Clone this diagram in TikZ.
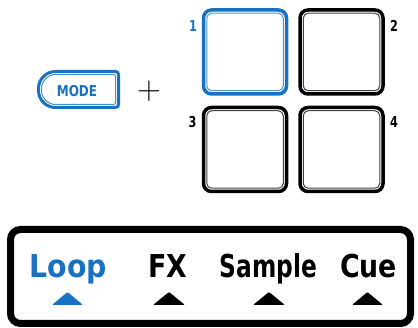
\documentclass[tikz,border=0pt]{standalone}
\usepackage{fontspec}
\newfontfamily\lblfont{DejaVu Sans}
\definecolor{padblue}{RGB}{25,113,194}
\begin{document}
\begin{tikzpicture}[x=1pt,y=-1pt,
  pad/.style={draw=#1, line width=3.5pt, rounded corners=8pt,
    minimum width=83pt, minimum height=84pt, inner sep=0pt,
    path picture={\draw[line width=1pt, draw=#1!75, rounded corners=5pt]
      ([shift={(3.25pt,-3.25pt)}]path picture bounding box.north west) rectangle
      ([shift={(-3.25pt,3.25pt)}]path picture bounding box.south east);}},
  padnum/.style={anchor=base, inner sep=0pt, font=\lblfont\bfseries\fontsize{15}{15}\selectfont},
  bartext/.style={anchor=base, inner sep=0pt, font=\lblfont\bfseries\fontsize{31.5}{32}\selectfont},
  marker/.style={rounded corners=1pt}]
\useasboundingbox (0,0) rectangle (418,328);

% MODE button
\draw[padblue, line width=3pt] (55.5,71.5) arc[start angle=90, end angle=180, radius=17pt]
  -- (38.5,90.5) arc[start angle=180, end angle=270, radius=17pt]
  -- (115.5,107.5) arc[start angle=270, end angle=360, radius=3pt]
  -- (118.5,74.5) arc[start angle=0, end angle=90, radius=3pt] -- cycle;
\draw[padblue!80, line width=1pt] (55.5,74.5) arc[start angle=90, end angle=180, radius=14pt]
  -- (41.5,90.5) arc[start angle=180, end angle=270, radius=14pt]
  -- (114,104.5) arc[start angle=270, end angle=360, radius=1.5pt]
  -- (115.5,76) arc[start angle=0, end angle=90, radius=1.5pt] -- cycle;
\node[anchor=base, inner sep=0pt, text=padblue, font=\lblfont\bfseries\fontsize{15}{15}\selectfont] (mode) at (77,97) {\scalebox{0.8}[1]{MODE}};

% plus
\node[inner sep=0pt, font=\fontsize{33}{33}\selectfont] (plus) at (149,91) {+};

% pads
\node[pad=padblue] (p1) at (245,52) {};
\node[pad=black] (p2) at (341.5,52) {};
\node[pad=black] (p3) at (245,149.5) {};
\node[pad=black] (p4) at (341.5,149.5) {};

\node[padnum, text=padblue] (n1) at (193,32) {\scalebox{0.75}[1]{1}};
\node[padnum] (n2) at (394,32) {\scalebox{0.75}[1]{2}};
\node[padnum] (n3) at (192.5,128) {\scalebox{0.75}[1]{3}};
\node[padnum] (n4) at (394,128) {\scalebox{0.75}[1]{4}};

% bottom bar
\node[draw, line width=7pt, rounded corners=10pt, minimum width=400pt, minimum height=94pt, inner sep=0pt] (bar) at (210.5,276.5) {};

\node[bartext, text=padblue] (loop) at (68.5,278) {\scalebox{0.9}[1]{Loop}};
\node[bartext] (fx) at (167.5,278) {\scalebox{0.85}[1]{FX}};
\node[bartext] (sample) at (268.5,278) {\scalebox{0.74}[1]{Sample}};
\node[bartext] (cue) at (368.5,278) {\scalebox{0.85}[1]{Cue}};

\fill[marker, padblue] (52,305) -- (67.5,292) -- (83,305) -- cycle;
\fill[marker] (153,305) -- (169,292) -- (185,305) -- cycle;
\fill[marker] (253,305) -- (269,292) -- (285,305) -- cycle;
\fill[marker] (352,305) -- (367.5,292) -- (383,305) -- cycle;
\end{tikzpicture}
\end{document}
